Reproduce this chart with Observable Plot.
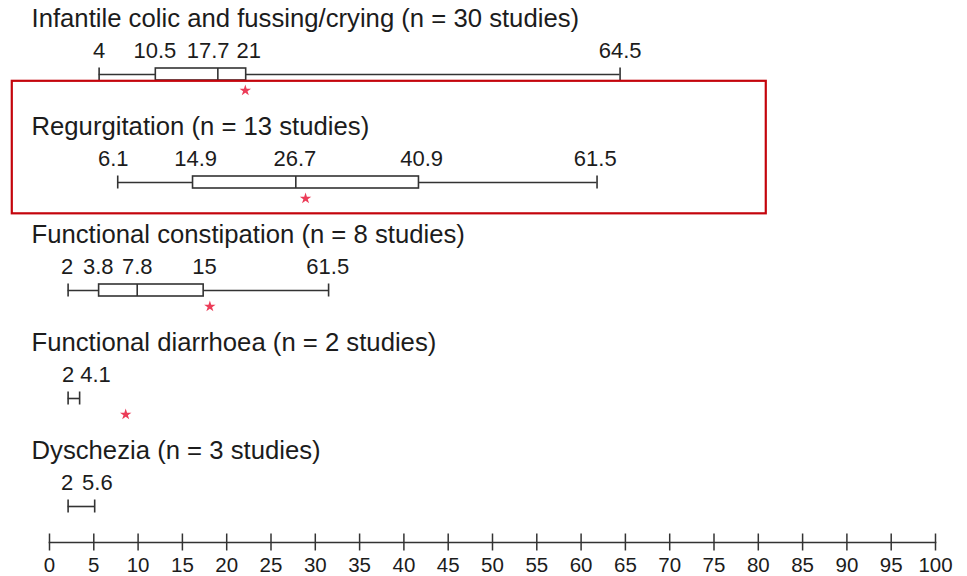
<!DOCTYPE html>
<html>
<head>
<meta charset="utf-8">
<script src="https://cdn.jsdelivr.net/npm/d3@7"></script>
<script src="https://cdn.jsdelivr.net/npm/@observablehq/plot@0.6"></script>
<style>
  body { margin: 0; background: #fff; }
  svg { display: block; }
</style>
</head>
<body>
<div id="chart"></div>
<script>
// ---- Data ----
const categories = [
  "Infantile colic and fussing/crying (n = 30 studies)",
  "Regurgitation (n = 13 studies)",
  "Functional constipation (n = 8 studies)",
  "Functional diarrhoea (n = 2 studies)",
  "Dyschezia (n = 3 studies)"
];
// printed values (min, Q1, median, Q3, max) as shown in the figure
const statLabels = [
  ["4", "10.5", "17.7", "21", "64.5"],
  ["6.1", "14.9", "26.7", "40.9", "61.5"],
  ["2", "3.8", "7.8", "15", "61.5"],
  ["2", "4.1"],
  ["2", "5.6"]
];
// where the figure actually draws those values on the 0–100 axis
const drawnValues = [
  [5.6, 12.0, 19.0, 22.2, 64.4],
  [7.7, 16.2, 27.8, 41.7, 61.8],
  [2.1, 5.6, 9.9, 17.4, 31.5],
  [2.1, 3.4],
  [2.1, 5.1]
];
// where the printed numbers sit on the axis
const labelValues = [
  [5.6, 11.9, 17.9, 22.5, 64.4],
  [7.2, 16.5, 27.7, 42.0, 61.6],
  [2.0, 5.5, 9.9, 17.5, 31.4],
  [2.1, 5.2],
  [2.0, 5.4]
];
// red asterisk (overall estimate) per category; null = none
const asteriskValues = [22.1, 28.9, 18.1, 8.6, null];
// highlighted category (red box)
const highlight = [{row: 1, x1: -4.2, x2: 80.9, y1: 0.063, y2: 1.29}];
const xTicks = [0, 5, 10, 15, 20, 25, 30, 35, 40, 45, 50, 55, 60, 65, 70, 75, 80, 85, 90, 95, 100];

// ---- Tables for the marks ----
const rows = categories.map((title, i) => ({i, title}));
const whiskers = drawnValues.map((v, i) => ({i, x1: v[0], x2: v[v.length - 1]}));
const boxes = drawnValues.filter(v => v.length === 5).map((v) => ({i: drawnValues.indexOf(v), x1: v[1], x2: v[3]}));
const medians = drawnValues.filter(v => v.length === 5).map((v) => ({i: drawnValues.indexOf(v), x: v[2]}));
const ends = drawnValues.flatMap((v, i) => [{i, x: v[0]}, {i, x: v[v.length - 1]}]);
const labels = statLabels.flatMap((arr, i) => arr.map((t, j) => ({i, text: t, x: labelValues[i][j]})));
const stars = asteriskValues.map((x, i) => ({i, x})).filter(d => d.x != null);

const ink = "#1c1c1c";
const line = "#333333";
const font = "'Liberation Sans', Arial, Helvetica, sans-serif";

const chart = Plot.plot({
  width: 967,
  height: 576,
  marginLeft: 49,
  marginRight: 32,
  marginTop: 0,
  marginBottom: 34,
  style: {fontFamily: font, background: "#fff", color: ink},
  x: {domain: [0, 100], axis: null},
  y: {domain: [0, 4], range: [74, 506], axis: null},
  marks: [
    // axis
    Plot.frame({anchor: "bottom", stroke: line, strokeWidth: 1.7}),
    Plot.axisX({ticks: xTicks, tickSize: 17, dy: -8.5, tickFormat: () => "", stroke: line, strokeWidth: 1.5}),
    Plot.axisX({ticks: xTicks, tickSize: 0, tickPadding: 14.5, fontSize: 20.5, fill: ink, tickFormat: d => String(d)}),
    // whiskers
    Plot.ruleY(whiskers, {y: "i", x1: "x1", x2: "x2", stroke: line, strokeWidth: 1.6}),
    Plot.ruleX(ends, {x: "x", y1: "i", y2: "i", insetTop: -6.5, insetBottom: -6.5, stroke: line, strokeWidth: 1.6}),
    // boxes
    Plot.rect(boxes, {x1: "x1", x2: "x2", y1: "i", y2: "i", insetTop: -6, insetBottom: -6, fill: "#fff", stroke: line, strokeWidth: 1.6}),
    Plot.ruleX(medians, {x: "x", y1: "i", y2: "i", insetTop: -6, insetBottom: -6, stroke: line, strokeWidth: 1.6}),
    // asterisks
    Plot.dot(stars, {x: "x", y: "i", dy: 16, symbol: "star", r: 3.6, fill: "#ec3c58", stroke: "none"}),
    // printed values
    Plot.text(labels, {x: "x", y: "i", text: "text", dy: -17, lineAnchor: "bottom", fontSize: 22, fill: ink}),
    // category titles
    Plot.text(rows, {y: "i", text: "title", frameAnchor: "left", textAnchor: "start", dx: -18, dy: -47.5, lineAnchor: "bottom", fontSize: 25.7, fill: ink}),
    // highlight box
    Plot.rect(highlight, {x1: "x1", x2: "x2", y1: "y1", y2: "y2", fill: "none", stroke: "#c4040c", strokeWidth: 2.2})
  ]
});
document.getElementById("chart").append(chart);
</script>
</body>
</html>
